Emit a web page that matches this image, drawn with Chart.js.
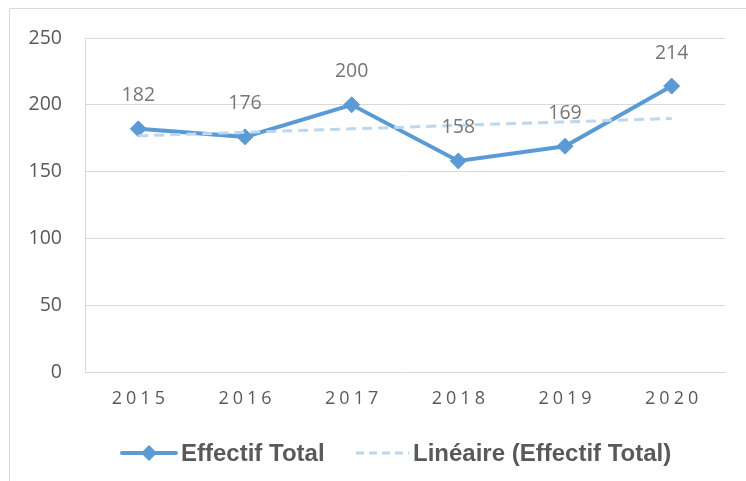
<!DOCTYPE html>
<html>
<head>
<meta charset="utf-8">
<script src="https://cdn.jsdelivr.net/npm/chart.js@4/dist/chart.umd.min.js"></script>
<style>
  html, body { margin: 0; padding: 0; background: #fff; overflow: hidden; }
  #wrap { position: relative; width: 746px; height: 481px; }
  #frame { position: absolute; left: 9px; top: 8px; width: 800px; height: 600px; border: 1px solid #d9d9d9; }
  #chart { position: absolute; left: 0; top: 0; }
</style>
</head>
<body>
<div id="wrap">
  <div id="frame"></div>
  <canvas id="chart" width="746" height="481"></canvas>
</div>
<script>
const years = ['2015', '2016', '2017', '2018', '2019', '2020'];
const effectifTotal = [182, 176, 200, 158, 169, 214];
// trend line
const lineaire = [176.8, 179.4, 182.0, 184.6, 187.2, 189.8];
const yTicks = [0, 50, 100, 150, 200, 250];

const mainColor = '#5B9BD5';
const trendColor = '#BDD7EE';
const textGray = '#595959';

const ctx = document.getElementById('chart').getContext('2d');

// value labels above each point
const valueLabels = {
  id: 'valueLabels',
  afterDatasetsDraw(chart) {
    const meta = chart.getDatasetMeta(1);
    const c = chart.ctx;
    c.save();
    c.font = '19.5px "Open Sans"';
    c.fillStyle = '#767676';
    c.textAlign = 'center';
    c.textBaseline = 'middle';
    meta.data.forEach((pt, i) => {
      c.fillText(String(effectifTotal[i]), pt.x, pt.y - 33);
    });
    c.restore();
  }
};

// x labels with letter spacing, plus the legend
const extras = {
  id: 'extras',
  afterDraw(chart) {
    const c = chart.ctx;
    const xs = chart.scales.x;
    c.save();
    c.font = '18px "Open Sans"';
    c.fillStyle = textGray;
    c.textAlign = 'center';
    c.textBaseline = 'middle';
    c.letterSpacing = '4px';
    years.forEach((y, i) => {
      c.fillText(y, xs.getPixelForValue(i) + 2, xs.top + 27);
    });
    c.restore();

    // legend
    const ly = 453;
    c.save();
    c.lineCap = 'round';
    c.strokeStyle = mainColor;
    c.lineWidth = 4;
    c.beginPath();
    c.moveTo(122, ly);
    c.lineTo(176, ly);
    c.stroke();
    c.fillStyle = mainColor;
    c.beginPath();
    c.moveTo(149, ly - 8);
    c.lineTo(157, ly);
    c.lineTo(149, ly + 8);
    c.lineTo(141, ly);
    c.closePath();
    c.fill();

    c.lineCap = 'butt';
    c.strokeStyle = trendColor;
    c.lineWidth = 3;
    c.setLineDash([8, 5]);
    c.beginPath();
    c.moveTo(356, ly);
    c.lineTo(409, ly);
    c.stroke();
    c.setLineDash([]);

    c.font = 'bold 24px "Liberation Sans", Arial';
    c.fillStyle = textGray;
    c.textAlign = 'left';
    c.textBaseline = 'middle';
    c.fillText('Effectif Total', 181, ly + 1);
    c.fillText('Linéaire (Effectif Total)', 413, ly + 1);
    c.restore();
  }
};

new Chart(ctx, {
  type: 'line',
  data: {
    labels: years,
    datasets: [
      {
        label: 'Linéaire (Effectif Total)',
        data: lineaire,
        borderColor: trendColor,
        borderWidth: 3,
        borderDash: [10, 6],
        pointRadius: 0,
        fill: false,
        tension: 0,
        order: 1
      },
      {
        label: 'Effectif Total',
        data: effectifTotal,
        borderColor: mainColor,
        backgroundColor: mainColor,
        borderWidth: 4,
        pointStyle: 'rectRot',
        pointRadius: 8,
        pointBorderWidth: 1,
        pointBackgroundColor: mainColor,
        pointBorderColor: mainColor,
        fill: false,
        tension: 0,
        order: 2
      }
    ]
  },
  options: {
    responsive: false,
    animation: false,
    layout: {
      padding: { left: 0, top: 38, right: 21, bottom: 69 }
    },
    plugins: {
      legend: { display: false },
      tooltip: { enabled: false }
    },
    scales: {
      x: {
        offset: true,
        grid: { display: false },
        border: { display: true, color: '#d9d9d9', width: 1 },
        ticks: { display: false },
        afterFit(scale) { scale.height = 40; }
      },
      y: {
        min: 0,
        max: 250,
        afterBuildTicks(scale) {
          scale.ticks = yTicks.map(v => ({ value: v }));
        },
        grid: { color: '#d9d9d9', lineWidth: 1, drawTicks: false },
        border: { display: true, color: '#d9d9d9', width: 1 },
        ticks: {
          padding: 23,
          color: textGray,
          font: { family: 'Open Sans', size: 19.5 }
        },
        afterFit(scale) { scale.width = 85; }
      }
    }
  },
  plugins: [valueLabels, extras]
});
</script>
</body>
</html>
